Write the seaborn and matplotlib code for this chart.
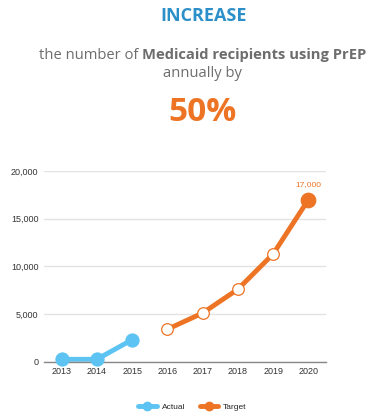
import pandas as pd
import matplotlib.pyplot as plt
import seaborn as sns
from matplotlib.lines import Line2D

# chart values
actual_years = [2013, 2014, 2015]
actual_values = [250, 250, 2300]
target_years = [2016, 2017, 2018, 2019, 2020]
target_values = [3400, 5100, 7600, 11300, 17000]
y_ticks = [0, 5000, 10000, 15000, 20000]
x_ticks = [2013, 2014, 2015, 2016, 2017, 2018, 2019, 2020]

BLUE = '#5cc3f2'
ORANGE = '#ec7424'
TITLE_BLUE = '#2b8fc9'
GRAY = '#6d6d6d'

sns.set_style('white')
plt.rcParams['font.family'] = ['Liberation Sans', 'DejaVu Sans']

df = pd.concat([
    pd.DataFrame({'Year': actual_years, 'Value': actual_values, 'Series': 'Actual'}),
    pd.DataFrame({'Year': target_years, 'Value': target_values, 'Series': 'Target'}),
])

fig = plt.figure(figsize=(3.85, 4.18), dpi=100)
ax = fig.add_axes([0.114, 0.1347, 0.733, 0.4563])

sns.lineplot(data=df, x='Year', y='Value', hue='Series',
             palette={'Actual': BLUE, 'Target': ORANGE},
             linewidth=3.5, legend=False, ax=ax, zorder=2)

act = df[df['Series'] == 'Actual']
tgt = df[df['Series'] == 'Target']
sns.scatterplot(data=act, x='Year', y='Value', color=BLUE, s=90,
                edgecolor=BLUE, ax=ax, zorder=3, clip_on=False, legend=False)
sns.scatterplot(data=tgt.iloc[:-1], x='Year', y='Value', color='white', s=70,
                edgecolor=ORANGE, linewidth=0.9, ax=ax, zorder=3, legend=False)
sns.scatterplot(data=tgt.iloc[-1:], x='Year', y='Value', color=ORANGE, s=110,
                edgecolor=ORANGE, ax=ax, zorder=3, legend=False)

last_year, last_val = target_years[-1], target_values[-1]
ax.annotate(f'{last_val:,}', (last_year, last_val), xytext=(0, 8),
            textcoords='offset points', ha='center', va='bottom',
            fontsize=6, color=ORANGE)

ax.set_xlim(2012.5, 2020.5)
ax.set_ylim(0, 20000)
ax.set_yticks(y_ticks)
ax.set_yticklabels([f'{v:,}' for v in y_ticks])
ax.set_xticks(x_ticks)
ax.set_xticklabels([str(v) for v in x_ticks])
ax.tick_params(axis='both', labelsize=6.5, colors='#333333', length=0, pad=4)
ax.set_xlabel('')
ax.set_ylabel('')
ax.grid(axis='y', color='#e3e3e3', linewidth=1)
ax.set_axisbelow(True)
for side in ['top', 'right', 'left']:
    ax.spines[side].set_visible(False)
ax.spines['bottom'].set_color('#888888')
ax.spines['bottom'].set_linewidth(1)

# headline texts
hfont = ['Open Sans', 'DejaVu Sans']
fig.text(0.529, 0.962, 'INCREASE', ha='center', va='center', fontsize=13,
         fontweight='bold', color=TITLE_BLUE, family=hfont)

y_line = 0.868
t1 = fig.text(0, y_line, 'the number of ', ha='left', va='center',
              fontsize=10.6, color=GRAY, family=hfont)
t2 = fig.text(0, y_line, 'Medicaid recipients using PrEP', ha='left', va='center',
              fontsize=10.6, fontweight='bold', color=GRAY, family=hfont)
r = fig.canvas.get_renderer()
w1 = t1.get_window_extent(r).width / fig.bbox.width
w2 = t2.get_window_extent(r).width / fig.bbox.width
x0 = 0.527 - (w1 + w2) / 2
t1.set_x(x0)
t2.set_x(x0 + w1)

fig.text(0.527, 0.825, 'annually by', ha='center', va='center', fontsize=10.6,
         color=GRAY, family=hfont)
fig.text(0.527, 0.731, '50%', ha='center', va='center', fontsize=24,
         fontweight='bold', color=ORANGE, family=hfont)

handles = [Line2D([], [], color=BLUE, linewidth=3.5, marker='o', markersize=6),
           Line2D([], [], color=ORANGE, linewidth=3.5, marker='o', markersize=6)]
fig.legend(handles, ['Actual', 'Target'], loc='center', bbox_to_anchor=(0.5, 0.027),
           ncol=2, frameon=False, fontsize=6, handlelength=2.2, columnspacing=1.8,
           handletextpad=0.6)

fig.savefig('out.png', dpi=100)
